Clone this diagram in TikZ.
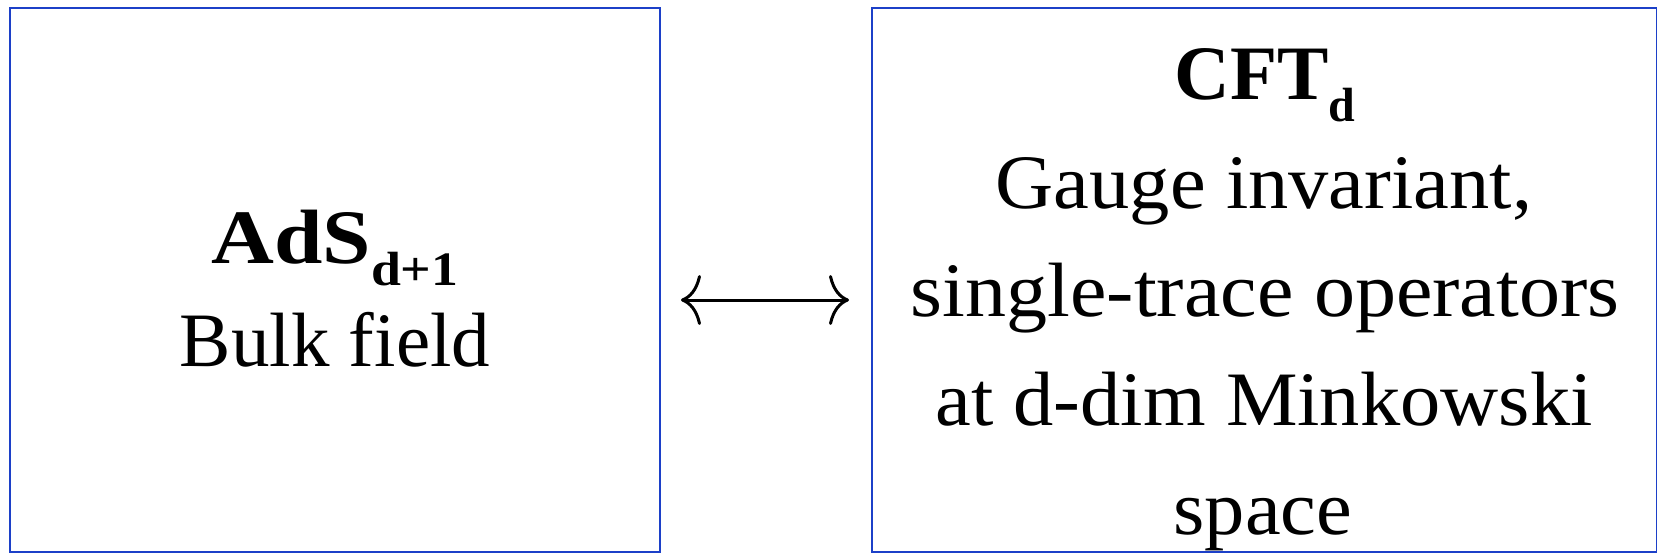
\documentclass[tikz,border=0pt]{standalone}
\usepackage{fontspec}
\setmainfont{Liberation Serif}
\newfontfamily\widefont[FakeStretch=1.045]{Liberation Serif}
\usetikzlibrary{arrows.meta}
\definecolor{boxblue}{RGB}{28,64,200}
\begin{document}
\begin{tikzpicture}[x=1pt,y=-1pt]
\tikzset{
  panel/.style={draw=boxblue,line width=2pt,inner sep=0pt,anchor=north west},
  txt/.style={font=\fontsize{77}{108}\selectfont,anchor=base,inner sep=0pt},
  rtxt/.style={font=\fontsize{77}{108}\widefont,anchor=base,inner sep=0pt}
}
\newcommand{\mysub}[1]{\raisebox{-22pt}{\fontsize{48}{48}\selectfont #1}}
\useasboundingbox (0,0) rectangle (1657,556);
\node[panel,minimum width=650pt,minimum height=544pt] (L) at (9,7) {};
\node[panel,minimum width=785pt,minimum height=544pt] (R) at (871,7) {};
\node[txt] (ads) at (335,263) {\bfseries \scalebox{1.13}[1]{AdS}\scalebox{1.12}[1]{\mysub{d+1}}};
\node[txt] (bulk) at (335,366) {Bulk field};
\node[txt] (cft) at (1265,100) {\bfseries CFT\mysub{d}};
\node[rtxt] (r1) at (1264,209) {Gauge invariant,};
\node[rtxt] (r2) at (1265,316) {\scalebox{1.02}[1]{single-trace operators}};
\node[rtxt] (r3) at (1264,425) {at d-dim Minkowski};
\node[rtxt] (r4) at (1263,534) {space};
\draw[line width=3pt,{To[length=20pt,width=50pt]}-{To[length=20pt,width=50pt]}]
  ([xshift=20pt,yshift=-20pt]L.east) -- ([xshift=-22pt,yshift=-20pt]R.west);
\end{tikzpicture}
\end{document}
